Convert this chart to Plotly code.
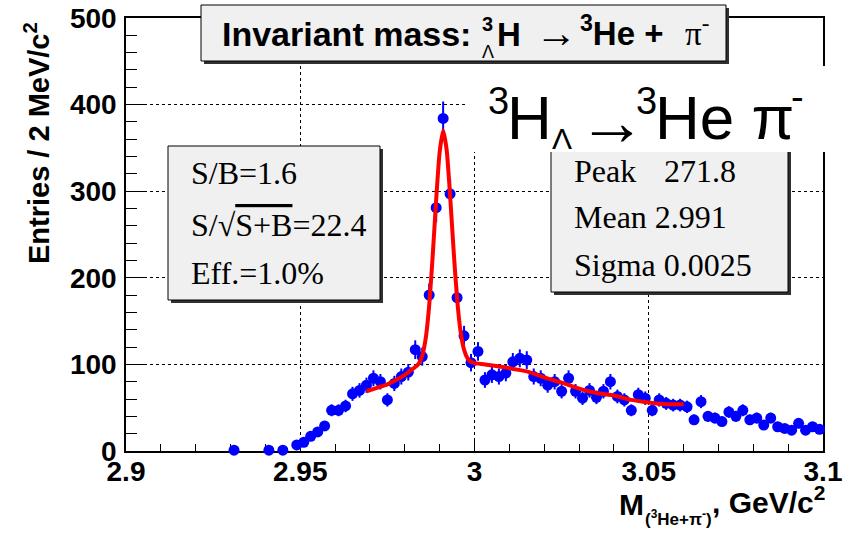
import numpy as np
import plotly.graph_objects as go

# ---- data ----
mass = [2.931, 2.941, 2.945, 2.949, 2.951, 2.953, 2.955, 2.957, 2.959, 2.961,
        2.963, 2.965, 2.967, 2.969, 2.971, 2.973, 2.975, 2.977, 2.979, 2.981,
        2.983, 2.985, 2.987, 2.989, 2.991, 2.993, 2.995, 2.997, 2.999, 3.001,
        3.003, 3.005, 3.007, 3.009, 3.011, 3.013, 3.015, 3.017, 3.019, 3.021,
        3.023, 3.025, 3.027, 3.029, 3.031, 3.033, 3.035, 3.037, 3.039, 3.041,
        3.043, 3.045, 3.047, 3.049, 3.051, 3.053, 3.055, 3.057, 3.059, 3.061,
        3.063, 3.065, 3.067, 3.069, 3.071, 3.073, 3.075, 3.077, 3.079, 3.081,
        3.083, 3.085, 3.087, 3.089, 3.091, 3.093, 3.095, 3.097, 3.099]
entries = [1, 1, 1, 7, 10, 17, 22, 29, 47, 47,
           52, 66, 70, 76, 84, 80, 59, 78, 86, 91,
           117, 109, 180, 281, 384, 297, 177, 133, 102, 115,
           82, 88, 86, 90, 103, 107, 105, 86, 84, 76,
           80, 69, 84, 69, 61, 70, 62, 69, 80, 63,
           59, 47, 65, 61, 47, 59, 55, 53, 53, 51,
           36, 57, 40, 38, 34, 45, 40, 47, 36, 38,
           30, 38, 28, 26, 24, 32, 24, 28, 25]

fit_mass = [2.969, 2.972, 2.975, 2.978, 2.980, 2.982, 2.983, 2.984, 2.985, 2.986,
            2.987, 2.988, 2.989, 2.990, 2.991, 2.992, 2.993, 2.994, 2.995, 2.996,
            2.997, 2.998, 2.999, 3.000, 3.003, 3.008, 3.015, 3.020, 3.025, 3.030,
            3.035, 3.040, 3.045, 3.050, 3.055, 3.060]
fit_vals = [69, 73, 77, 83, 88, 94, 97, 101, 110, 130,
            168, 225, 290, 345, 370, 348, 295, 232, 176, 138,
            117, 107, 103, 101.5, 100, 97, 92, 85, 79, 72,
            67, 64, 59, 56, 54, 54]

x_ticks = [2.9, 2.95, 3.0, 3.05, 3.1]
x_tick_text = ["2.9", "2.95", "3", "3.05", "3.1"]
y_ticks = [0, 100, 200, 300, 400, 500]

err = np.sqrt(np.array(entries, dtype=float))

# ---- geometry helpers (pixel -> paper) ----
L, R, T, B = 126, 823, 18, 451
W, H = R - L, B - T
def px(x): return (x - L) / W
def py(y): return (B - y) / H

fig = go.Figure()
fig.add_trace(go.Scatter(
    x=mass, y=entries, mode="markers",
    marker=dict(color="#0000ff", size=11),
    error_y=dict(type="data", array=err, color="#0000ff", thickness=2, width=0),
    cliponaxis=False, showlegend=False))
fig.add_trace(go.Scatter(
    x=fit_mass, y=fit_vals, mode="lines",
    line=dict(color="#ff0000", width=4, shape="spline", smoothing=0.6),
    showlegend=False))

axis_common = dict(
    showline=True, linecolor="black", linewidth=1.5, mirror=True,
    ticks="inside", tickcolor="black", tickwidth=1,
    showgrid=True, gridcolor="black", griddash="dot", gridwidth=1,
    zeroline=False, layer="below traces",
    tickfont=dict(family="Liberation Sans", size=28, color="black", weight="bold"),
)
fig.update_xaxes(range=[2.9, 3.1], tickvals=x_ticks, ticktext=x_tick_text, ticklen=13,
                 ticklabelstandoff=-5,
                 minor=dict(dtick=0.01, tick0=2.9, ticks="inside", ticklen=7,
                            tickcolor="black", showgrid=False),
                 **axis_common)
fig.update_yaxes(range=[0, 500], tickvals=y_ticks, ticklen=21,
                 ticklabelstandoff=2,
                 minor=dict(dtick=20, tick0=0, ticks="inside", ticklen=11,
                            tickcolor="black", showgrid=False),
                 **axis_common)

shapes = []
def box(x0, y0, x1, y1, fill="#f0f0f0", line="black", shadow=3):
    if shadow:
        shapes.append(dict(type="rect", xref="paper", yref="paper", layer="above",
                           x0=px(x0 + shadow), x1=px(x1 + shadow),
                           y0=py(y1 + shadow), y1=py(y0 + shadow),
                           fillcolor="#303030", line=dict(width=0)))
    shapes.append(dict(type="rect", xref="paper", yref="paper", layer="above",
                       x0=px(x0), x1=px(x1), y0=py(y1), y1=py(y0),
                       fillcolor=fill, line=dict(color=line, width=1 if line else 0)))

box(168, 146, 380, 300)          # left stats box
box(551, 140, 788, 292)          # right stats box
box(201, 5, 726, 61)             # title box
# white label background
shapes.append(dict(type="rect", xref="paper", yref="paper", layer="above",
                   x0=px(466), x1=px(846), y0=py(152), y1=py(66),
                   fillcolor="white", line=dict(width=0)))

ann = []
def text(t, x, y, size, family="Liberation Sans", bold=False, xanchor="left",
         yanchor="middle", angle=0):
    ann.append(dict(text=t, xref="paper", yref="paper", x=px(x), y=py(y),
                    xanchor=xanchor, yanchor=yanchor, showarrow=False,
                    textangle=angle,
                    font=dict(family=family, size=size, color="black",
                              weight="bold" if bold else "normal")))

# title
text("Invariant mass:", 220, 34, 34, bold=True)
text("3", 480, 24, 20, bold=True)
text("Λ", 480, 52, 18)
text("H", 495, 34, 33, bold=True)
text("→", 533, 33, 42)
text("<sup>3</sup>He +", 578, 31, 33, bold=True)
text("π<sup>-</sup>", 683, 31, 33, family="Liberation Serif")

# big label (pieces placed like the TLatex layout)
text("3", 486, 101, 38)
text("H", 505, 117, 62)
text("Λ", 550, 139, 30)
text("→", 576, 121, 68)
text("3", 634, 101, 38)
text("He π", 653, 117, 62)
text("-", 789, 97, 38)

# left stats box
serif = "Liberation Serif"
text("S/B=1.6", 189, 173, 32, family=serif)
text("S/√<span style='text-decoration:overline'>S+B</span>=22.4", 189, 225, 32, family=serif)
text("Eff.=1.0%", 189, 273, 32, family=serif)

# right stats box
text("Peak", 572, 171, 32, family=serif)
text("271.8", 662, 171, 32, family=serif)
text("Mean 2.991", 572, 217, 32, family=serif)
text("Sigma 0.0025", 572, 265, 32, family=serif)

# axis titles
text("Entries / 2 MeV/c<sup>2</sup>", 37, 143, 29, bold=True, xanchor="center", angle=-90)
text("M", 617, 504, 30, bold=True)
text("(<sup>3</sup>He+π<sup>-</sup>)", 643, 518, 17, bold=True)
text(", GeV/c<sup>2</sup>", 710, 500, 30, bold=True)

fig.update_layout(
    width=846, height=537,
    margin=dict(l=L, r=846 - R, t=T, b=537 - B, autoexpand=False),
    paper_bgcolor="white", plot_bgcolor="white",
    shapes=shapes, annotations=ann, showlegend=False,
)
fig.write_html("out.html", config={"displayModeBar": False},
               post_script="document.body.style.margin='0';document.body.style.overflow='hidden';")
